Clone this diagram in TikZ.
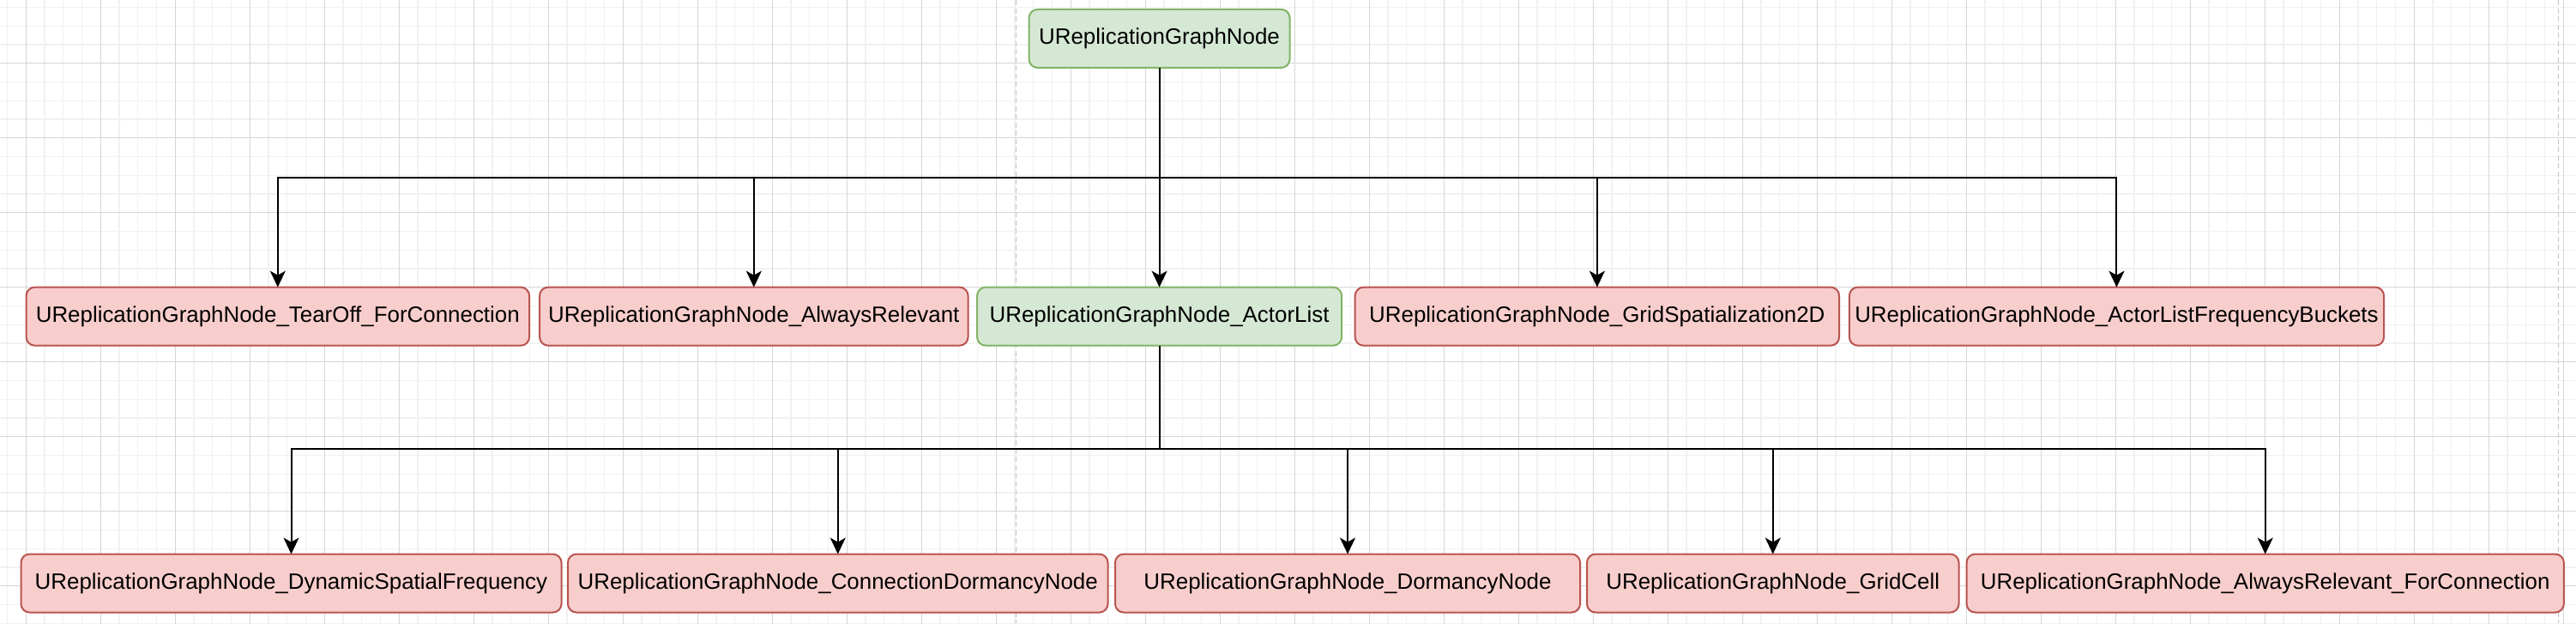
\documentclass[tikz,border=0pt]{standalone}
\usepackage{fontspec}
\setmainfont{Liberation Sans}
\usepackage{xcolor}
\usetikzlibrary{arrows.meta, positioning}
\definecolor{redfill}{HTML}{F8CECC}
\definecolor{redline}{HTML}{B85450}
\definecolor{greenfill}{HTML}{D5E8D4}
\definecolor{greenline}{HTML}{82B366}
\definecolor{gridminor}{HTML}{F1F1F1}
\definecolor{gridmajor}{HTML}{D6D6D6}
\definecolor{pageline}{HTML}{C4C4C4}

\begin{document}
\begin{tikzpicture}[
	% Set the default distance between nodes.
	node distance=0.1cm
	]
	% Define custom styles to make the code cleaner and more reusable.
	\tikzset{
		box/.style={draw, rectangle, rounded corners=0.1cm, line width=0.02cm, outer sep=0pt, minimum height=0.68cm, inner xsep=0.05cm, align=center, font=\fontsize{7.37}{9}\selectfont},
		redbox/.style={box, draw=redline, fill=redfill},
		greenbox/.style={box, draw=greenline, fill=greenfill},
		line/.style={draw, line width=0.02cm, -{Stealth[length=0.19cm, width=0.18cm, inset=0.05cm]}},
		minorgrid/.style={draw=gridminor, line width=0.012cm},
		majorgrid/.style={draw=gridmajor, line width=0.015cm},
		pagebreak/.style={draw=pageline, line width=0.012cm, dash pattern=on 0.06cm off 0.035cm}
	}
	
	% === BACKGROUND ===
	% Canvas grid and page breaks.
	
	\useasboundingbox (0,0) rectangle (30.03,-7.26);
	\fill[white] (0,0) rectangle (30.03,-7.26);
	\begin{scope}
		\clip (0,0) rectangle (30.03,-7.26);
		\draw[minorgrid, shift={(0.303,-0.737)}, step=0.2175] (-0.5,-7.2) grid (29.9,0.9);
		\draw[majorgrid, shift={(0.303,-0.737)}, step=0.87] (-0.5,-7.2) grid (29.9,0.9);
	\end{scope}
	\draw[pagebreak] (11.846,0) -- (11.846,-7.26);
	\draw[pagebreak] (29.827,0) -- (29.827,-7.26);
	
	% === NODES ===
	% The two rows of subclasses from left to right, then the root above them.
	
	\node[redbox, minimum width=5.865cm] (tearoff) at (3.238,-3.686) {UReplicationGraphNode\_TearOff\_ForConnection};
	\node[redbox, minimum width=4.995cm, right=0.12cm of tearoff] (alwaysrel) {UReplicationGraphNode\_AlwaysRelevant};
	\node[greenbox, minimum width=4.25cm, right=0.105cm of alwaysrel] (actorlist) {UReplicationGraphNode\_ActorList};
	\node[redbox, minimum width=5.644cm, right=0.156cm of actorlist] (gridspatial) {UReplicationGraphNode\_GridSpatialization2D};
	\node[redbox, minimum width=6.232cm, right=0.118cm of gridspatial] (freqbuckets) {UReplicationGraphNode\_ActorListFrequencyBuckets};
	
	\node[greenbox, minimum width=3.04cm, above=2.557cm of actorlist] (root) {UReplicationGraphNode};
	
	\node[redbox, minimum width=6.30cm] (dynamic) at (3.395,-6.795) {UReplicationGraphNode\_DynamicSpatialFrequency};
	\node[redbox, minimum width=6.295cm, right=0.075cm of dynamic] (conndormancy) {UReplicationGraphNode\_ConnectionDormancyNode};
	\node[redbox, minimum width=5.42cm, right=0.085cm of conndormancy] (dormancy) {UReplicationGraphNode\_DormancyNode};
	\node[redbox, minimum width=4.335cm, right=0.08cm of dormancy] (gridcell) {UReplicationGraphNode\_GridCell};
	\node[redbox, minimum width=6.962cm, right=0.091cm of gridcell] (alwaysrelconn) {UReplicationGraphNode\_AlwaysRelevant\_ForConnection};
	
	% === CONNECTIONS ===
	% Draw the lines and arrows connecting the nodes.
	
	\coordinate (bus1) at ([yshift=-1.281cm]root.south);
	\coordinate (bus2) at ([yshift=-1.204cm]actorlist.south);
	
	\draw[line] (root.south) -- (bus1) -| (tearoff.north);
	\draw[line] (root.south) -- (bus1) -| (alwaysrel.north);
	\draw[line] (root.south) -- (actorlist.north);
	\draw[line] (root.south) -- (bus1) -| (gridspatial.north);
	\draw[line] (root.south) -- (bus1) -| (freqbuckets.north);
	
	\draw[line] (actorlist.south) -- (bus2) -| (dynamic.north);
	\draw[line] (actorlist.south) -- (bus2) -| (conndormancy.north);
	\draw[line] (actorlist.south) -- (bus2) -| (dormancy.north);
	\draw[line] (actorlist.south) -- (bus2) -| (gridcell.north);
	\draw[line] (actorlist.south) -- (bus2) -| (alwaysrelconn.north);
\end{tikzpicture}
\end{document}
